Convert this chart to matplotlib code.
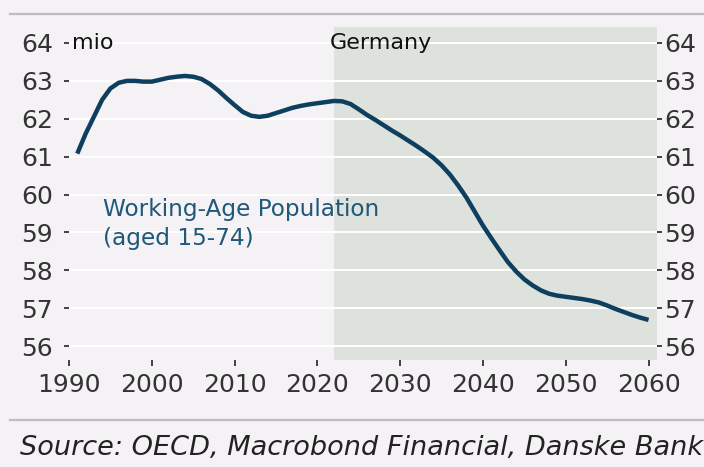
import matplotlib
matplotlib.use('Agg')
import matplotlib.pyplot as plt

# Working-age population (15-74), Germany, million
years = list(range(1991, 2061))
pop = [61.08, 61.60, 62.05, 62.50, 62.80, 62.95, 63.00, 63.00, 62.98, 62.98,
       63.03, 63.08, 63.11, 63.13, 63.11, 63.05, 62.92, 62.75, 62.55, 62.36,
       62.18, 62.08, 62.05, 62.08, 62.15, 62.22, 62.29, 62.34, 62.38, 62.41,
       62.44, 62.47, 62.46, 62.39, 62.25, 62.10, 61.97, 61.83, 61.69, 61.56,
       61.42, 61.28, 61.13, 60.97, 60.77, 60.53, 60.24, 59.92, 59.55, 59.18,
       58.85, 58.53, 58.22, 57.97, 57.76, 57.60, 57.47, 57.38, 57.33, 57.30,
       57.27, 57.24, 57.20, 57.15, 57.07, 56.98, 56.90, 56.82, 56.75, 56.69]
forecast_start = 2022
x_ticks = [1990, 2000, 2010, 2020, 2030, 2040, 2050, 2060]
y_ticks = [56, 57, 58, 59, 60, 61, 62, 63, 64]
xlim = (1990, 2061)
ylim = (55.63, 64.42)

BG = '#f4f2f4'
SHADE = '#dee2dd'
LINE = '#0f3f5f'
LABEL = '#1f5878'
TXT = '#333333'

plt.rcParams['font.family'] = ['DejaVu Sans']

fig = plt.figure(figsize=(7.04, 4.67), dpi=100, facecolor=BG)
ax = fig.add_axes([0.098, 0.229, 0.835, 0.713])
ax.set_facecolor(BG)

ax.axvspan(forecast_start, xlim[1], color=SHADE, lw=0, zorder=0.1)
ax.plot(years, pop, color=LINE, lw=3.2, solid_capstyle='butt',
        solid_joinstyle='round', zorder=3)

ax.set_xlim(*xlim)
ax.set_ylim(*ylim)
ax.set_xticks(x_ticks)
ax.set_yticks(y_ticks)
ax.set_axisbelow(True)
ax.grid(axis='y', color='white', lw=1.4)
for s in ax.spines.values():
    s.set_visible(False)
ax.tick_params(axis='y', length=3.6, width=1.3, color=TXT, labelcolor=TXT,
               labelsize=18, pad=8)
ax.tick_params(axis='x', length=4.3, width=1.3, color=TXT, labelcolor=TXT,
               labelsize=18, pad=5)

# right-hand copy of the value axis
ax2 = ax.twinx()
ax2.set_ylim(*ylim)
ax2.set_yticks(y_ticks)
for s in ax2.spines.values():
    s.set_visible(False)
ax2.tick_params(axis='y', length=3.6, width=1.3, color=TXT, labelcolor=TXT,
                labelsize=18, pad=1.5)

ax.text(1990.4, 64, 'mio', fontsize=16, color='#111111', va='center', ha='left')
ax.text(2021.5, 64, 'Germany', fontsize=16, color='#111111', va='center', ha='left')
ax.text(1994.1, 59.22, 'Working-Age Population\n(aged 15-74)', fontsize=16.7,
        color=LABEL, va='center', ha='left', linespacing=1.3)

# frame lines above the chart and above the source note
fig.add_artist(plt.Line2D([0.014, 1.0], [0.970, 0.970], color='#bdbdbd', lw=1.6))
fig.add_artist(plt.Line2D([0.014, 1.0], [0.101, 0.101], color='#bdbdbd', lw=1.6))
fig.text(0.028, 0.040, 'Source: OECD, Macrobond Financial, Danske Bank',
         fontsize=19.5, style='italic', color='#222222', va='center', ha='left')

fig.savefig('out.png', dpi=100, facecolor=BG)
